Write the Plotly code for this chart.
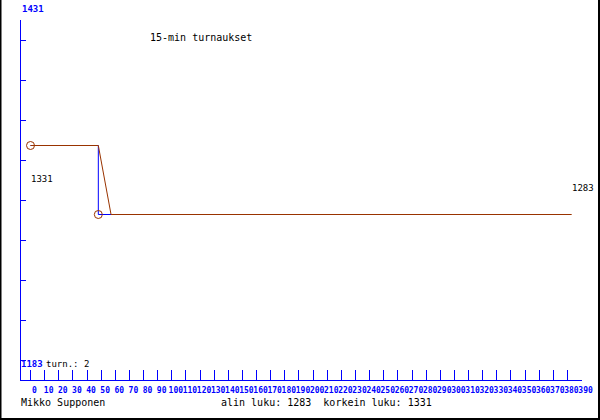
import plotly.graph_objects as go

# ---- data ----
turn_x = [0, 48, 57, 383]            # red turn line (minutes)
turn_y = [1331, 1331, 1283, 1283]
step_x = [0, 48, 48, 57]             # blue step line
step_y = [1331, 1331, 1283, 1283]
circle_x = [0, 48]
circle_y = [1331, 1283]
x_ticks = list(range(0, 400, 10))
x_tick_labels = [str(v) for v in x_ticks]
top_label = 1431
bottom_label = 1183
title_text = "15-min turnaukset"
author = "Mikko Supponen"
low_value = 1283
high_value = 1331
turn_count = 2

# ---- layout geometry (pixels) ----
W, H = 600, 420
L, R, T, B = 21, 582, 20, 380          # plot area
y_px_per_unit = 1.4375
y_anchor_px = 145.5                     # pixel row of the 1331 level
y_top = high_value + (y_anchor_px - T) / y_px_per_unit
y_bot = high_value - (B - y_anchor_px) / y_px_per_unit
y_tickvals = [high_value - (p + 0.5 - y_anchor_px) / y_px_per_unit for p in range(40, 361, 40)]
x_px_per_unit = 1.413
x0_px = 30.5
x_left = -(x0_px - L) / x_px_per_unit
x_right = (R - x0_px) / x_px_per_unit

RED = "#993300"
BLUE = "#0000ff"
MONO = "DejaVu Sans Mono"

def px(x):
    return (x - L) / (R - L)

def py(y):
    return (B - y) / (B - T)

fig = go.Figure()
fig.add_trace(go.Scatter(x=step_x, y=step_y, mode="lines",
                         line=dict(color=BLUE, width=1), hoverinfo="skip"))
fig.add_trace(go.Scatter(x=turn_x, y=turn_y, mode="lines",
                         line=dict(color=RED, width=1), hoverinfo="skip"))
fig.add_trace(go.Scatter(x=circle_x, y=circle_y, mode="markers",
                         marker=dict(symbol="circle-open", size=8, color=RED,
                                     line=dict(width=1, color=RED)),
                         hoverinfo="skip"))

ann = []
def add(text, x, y, size, color="black", weight="normal"):
    ann.append(dict(text=text, x=px(x), y=py(y), xref="paper", yref="paper",
                    xanchor="left", yanchor="middle", showarrow=False,
                    font=dict(family=MONO, size=size, color=color, weight=weight)))

add(str(top_label), 20, 9, 9, BLUE, "bold")
add(str(bottom_label), 19, 364, 9, BLUE, "bold")
add(f"turn.: {turn_count}", 44, 364, 9)
add(title_text, 148, 37, 10)
add(str(high_value), 29, 179, 9)
add(str(low_value), 570, 188, 9)
add(author, 19, 402, 10)
add(f"alin luku: {low_value}\u00a0\u00a0korkein luku: {high_value}", 219, 402, 10)

shapes = [
    dict(type="line", xref="paper", yref="paper", x0=px(0.5), x1=px(0.5),
         y0=py(0), y1=py(420), line=dict(color="black", width=2)),
    dict(type="line", xref="paper", yref="paper", x0=px(599), x1=px(599),
         y0=py(0), y1=py(420), line=dict(color="black", width=2)),
    dict(type="line", xref="paper", yref="paper", x0=px(0), x1=px(600),
         y0=py(419), y1=py(419), line=dict(color="black", width=2)),
]

fig.update_layout(
    width=W, height=H,
    margin=dict(l=L, r=W - R, t=T, b=H - B, pad=0, autoexpand=False),
    paper_bgcolor="white", plot_bgcolor="white",
    showlegend=False,
    annotations=ann, shapes=shapes,
    xaxis=dict(range=[x_left, x_right], tickvals=x_ticks, ticktext=x_tick_labels,
               ticks="inside", ticklen=10, tickwidth=1, tickcolor=BLUE,
               showline=True, linecolor=BLUE, linewidth=1,
               showgrid=False, zeroline=False, automargin=False,
               tickfont=dict(family=MONO, size=8, color=BLUE, weight="bold"),
               tickangle=0, ticklabelshift=4, ticklabelstandoff=2),
    yaxis=dict(range=[y_bot, y_top], tickvals=y_tickvals, showticklabels=False,
               ticks="inside", ticklen=5, tickwidth=1, tickcolor=BLUE,
               showline=True, linecolor=BLUE, linewidth=1,
               showgrid=False, zeroline=False, automargin=False),
)

fig.write_html("out.html", config={"staticPlot": True},
               post_script="document.body.style.margin='0';document.body.style.padding='0';"
                           "document.body.style.overflow='hidden';")
